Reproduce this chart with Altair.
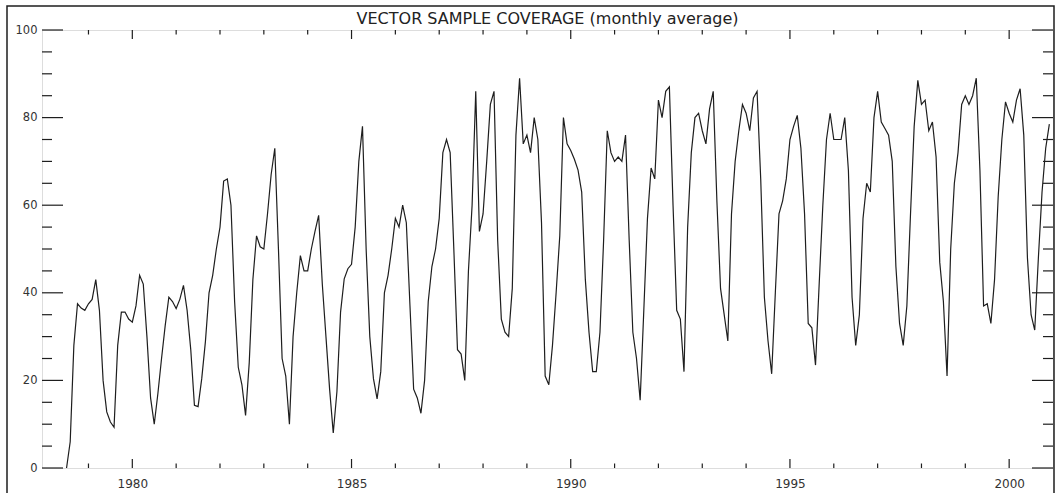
import altair as alt
import pandas as pd

# ---- data (monthly averages, first value = Jul 1978) ----
start_year = 1978
start_month = 7

cov_1978 = [0, 6, 28, 37.5, 36.5, 36]
cov_1979 = [37.5, 38.5, 43, 36, 20, 12.8, 10.5, 9.3, 28, 35.6, 35.6, 34]
cov_1980 = [33.3, 37, 44, 42, 30, 16, 10, 17, 25, 32.5, 39, 38]
cov_1981 = [36.4, 38.5, 41.7, 36, 27, 14.3, 14, 20.4, 28.8, 40, 44, 50]
cov_1982 = [55, 65.5, 66, 60, 38, 23, 19, 12, 24, 43, 53, 50.5]
cov_1983 = [50, 58, 67, 73, 50, 25, 21, 10, 30, 40, 48.5, 45]
cov_1984 = [45, 50, 54, 57.7, 42, 30, 18, 8, 17.4, 35.6, 43.2, 45.5]
cov_1985 = [46.5, 55, 70, 78, 50, 30, 20.4, 15.8, 22, 40, 44, 50]
cov_1986 = [57, 55, 60, 56, 37, 18, 16, 12.5, 20, 38, 46, 50]
cov_1987 = [57, 72, 75, 72, 50, 27, 26, 20, 45, 60, 86, 54]
cov_1988 = [58, 70, 83, 86, 52, 34, 31, 30, 41, 76, 89, 74]
cov_1989 = [76, 72, 80, 75, 56, 21, 19, 28, 40, 53, 80, 74]
cov_1990 = [72.5, 70.5, 68, 63, 43, 31, 22, 22, 31, 52, 77, 72]
cov_1991 = [70, 71, 70, 76, 52, 31, 25, 15.5, 36, 57, 68.5, 66]
cov_1992 = [84, 80, 86, 87, 60, 36, 34, 22, 55, 72, 80, 81]
cov_1993 = [77, 74, 82, 86, 61, 41, 35, 29, 58, 70, 77, 83]
cov_1994 = [81, 77, 84.5, 86, 66, 39, 29, 21.5, 40, 58, 61, 66]
cov_1995 = [75, 78, 80.5, 73, 58, 33, 32, 23.5, 42, 60, 75, 81]
cov_1996 = [75, 75, 75, 80, 68, 39, 28, 35, 57, 65, 63, 80]
cov_1997 = [86, 79, 77.5, 76, 70, 46, 33, 28, 37, 58, 78, 88.5]
cov_1998 = [83, 84, 77, 79, 71, 47, 38, 21, 50, 65, 72, 83]
cov_1999 = [85, 83, 85, 89, 68, 37, 37.5, 33, 43, 62, 75, 83.6]
cov_2000 = [81, 79, 84, 86.6, 76, 48, 35, 31.5, 48, 63, 73, 78.5]

coverage = (cov_1978 + cov_1979 + cov_1980 + cov_1981 + cov_1982 + cov_1983 +
            cov_1984 + cov_1985 + cov_1986 + cov_1987 + cov_1988 + cov_1989 +
            cov_1990 + cov_1991 + cov_1992 + cov_1993 + cov_1994 + cov_1995 +
            cov_1996 + cov_1997 + cov_1998 + cov_1999 + cov_2000)

x_labels = [1980, 1985, 1990, 1995, 2000]
x_minor = [y for y in range(1979, 2001) if y not in x_labels]
y_labels = [0, 20, 40, 60, 80, 100]
y_minor = [v for v in range(5, 100, 5) if v not in y_labels]
x_domain = [1977.94, 2001.0]
title_text = ["VECTOR SAMPLE COVERAGE (monthly average)"]

years = [start_year + (start_month - 1 + k) / 12.0 for k in range(len(coverage))]
df = pd.DataFrame({"year": years, "coverage": coverage})

W, H = 1011, 438
INK = "#1e1e1e"
FONT = "DejaVu Sans"

xscale = alt.Scale(domain=x_domain, nice=False, zero=False)
yscale = alt.Scale(domain=[0, 100], nice=False, zero=False)

xaxis = alt.Axis(values=x_labels, format="d", title=None, ticks=False,
                 domain=False, grid=False, labelPadding=10,
                 labelFontSize=12, labelFont=FONT, labelColor="#333",
                 labelFlush=False)
yaxis = alt.Axis(values=y_labels, format="d", title=None, ticks=False,
                 domain=False, grid=False, labelPadding=5,
                 labelFontSize=11.5, labelFont=FONT, labelColor="#333",
                 labelFlush=False)

line = alt.Chart(df).mark_line(color=INK, strokeWidth=1.2).encode(
    x=alt.X("year:Q", scale=xscale, axis=xaxis),
    y=alt.Y("coverage:Q", scale=yscale, axis=yaxis),
)


def xticks(vals, y0, y1):
    return alt.Chart(pd.DataFrame({"year": vals})).mark_rule(
        color=INK, strokeWidth=1.2).encode(
        x=alt.X("year:Q", scale=xscale, axis=xaxis),
        y=alt.value(y0), y2=alt.value(y1))


def yticks(vals, x0, x1):
    return alt.Chart(pd.DataFrame({"coverage": vals})).mark_rule(
        color=INK, strokeWidth=1.2).encode(
        y=alt.Y("coverage:Q", scale=yscale, axis=yaxis),
        x=alt.value(x0), x2=alt.value(x1))


ticks = [
    xticks(x_labels, H, H - 9), xticks(x_minor, H, H - 4.5),
    xticks(x_labels, 0, 9), xticks(x_minor, 0, 4.5),
    yticks(y_labels, 0, 21), yticks(y_minor, 0, 10),
    yticks(y_labels, W, W - 21), yticks(y_minor, W, W - 10),
]

frame = alt.Chart(pd.DataFrame({"a": [0]})).mark_rect(
    fillOpacity=0, stroke=INK, strokeWidth=1.5).encode(
    x=alt.value(-35), x2=alt.value(1012), y=alt.value(-24), y2=alt.value(480))

title = alt.Chart(pd.DataFrame({"t": title_text})).mark_text(
    font=FONT, fontSize=16, color="#222", baseline="alphabetic",
    align="center").encode(
    text="t:N", x=alt.value(W / 2), y=alt.value(-6))

chart = alt.layer(line, *ticks, frame, title).properties(
    width=W, height=H,
    autosize=alt.AutoSizeParams(type="none"),
    padding={"left": 42, "top": 30, "right": 2, "bottom": 25},
).configure_view(stroke=INK, strokeWidth=1.5).configure(background="white")

chart.save("out.html", embed_options={"renderer": "svg", "actions": False})
